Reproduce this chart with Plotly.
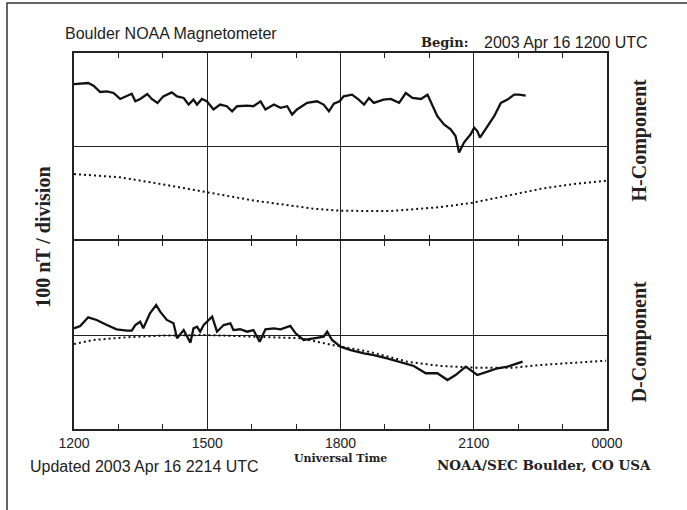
import plotly.graph_objects as go

# hours UT since 1200 (24 = 0000 next day); y in nT, 100 nT per division
h_time = [12.00, 12.20, 12.32, 12.44, 12.59, 12.74, 12.89, 13.04, 13.19, 13.30, 13.38, 13.49,
          13.65, 13.75, 13.88, 14.01, 14.20, 14.32, 14.47, 14.58, 14.69, 14.77, 14.88, 14.99,
          15.14, 15.29, 15.44, 15.56, 15.67, 15.90, 16.04, 16.20, 16.31, 16.50, 16.65, 16.80,
          16.91, 17.02, 17.25, 17.47, 17.62, 17.74, 17.85, 17.98, 18.07, 18.26, 18.41, 18.53,
          18.64, 18.75, 18.97, 19.13, 19.32, 19.47, 19.62, 19.81, 19.96, 20.07, 20.18, 20.33,
          20.48, 20.59, 20.67, 20.78, 20.93, 21.01, 21.08, 21.14, 21.31, 21.46, 21.61, 21.76,
          21.91, 22.02, 22.17]
h_obs = [366.7, 367.5, 367.8, 364.9, 358.2, 358.8, 357.1, 350.7, 353.5, 356.4, 348.2, 350.7,
         356.1, 350.7, 346.5, 353.5, 357.8, 353.5, 351.8, 344.7, 350.0, 344.7, 350.7, 348.2,
         339.4, 344.7, 342.9, 337.5, 342.9, 343.6, 342.9, 348.2, 339.4, 344.7, 341.2, 342.9,
         334.0, 339.4, 346.5, 348.2, 344.7, 337.5, 345.7, 348.2, 353.5, 355.3, 350.0, 344.7,
         351.8, 346.5, 350.0, 350.7, 346.5, 357.1, 351.8, 350.7, 355.3, 342.9, 332.2, 323.4,
         318.1, 311.0, 293.3, 303.9, 312.8, 319.9, 316.3, 309.2, 321.6, 332.2, 346.5, 350.0,
         355.3, 355.3, 354.2]

h_quiet_time = [12.00, 13.04, 13.94, 14.99, 16.04, 17.40, 18.00, 19.13, 20.26, 20.97, 21.76,
                22.51, 23.26, 23.98]
h_quiet = [270.2, 266.7, 259.6, 250.7, 241.8, 233.0, 230.8, 230.5, 234.8, 239.4, 247.1,
           254.3, 259.6, 263.1]

d_time = [12.00, 12.14, 12.32, 12.51, 12.74, 12.96, 13.19, 13.30, 13.38, 13.49, 13.56, 13.71,
          13.85, 13.94, 14.09, 14.24, 14.32, 14.47, 14.62, 14.69, 14.77, 14.84, 14.92, 15.11,
          15.22, 15.37, 15.52, 15.59, 15.74, 15.90, 16.04, 16.18, 16.31, 16.50, 16.65, 16.87,
          16.99, 17.17, 17.40, 17.62, 17.70, 17.81, 18.00, 18.23, 18.53, 18.75, 19.05, 19.43,
          19.65, 19.92, 20.18, 20.41, 20.59, 20.82, 20.93, 21.08, 21.31, 21.54, 21.76, 22.10]
d_obs = [107.1, 109.6, 118.8, 116.0, 110.6, 106.1, 104.6, 104.6, 110.6, 114.1, 107.1, 123.1,
         131.9, 124.8, 116.0, 112.4, 96.5, 105.3, 91.8, 107.1, 108.8, 103.5, 110.6, 119.5,
         103.5, 110.6, 112.4, 105.3, 106.1, 103.5, 105.3, 92.9, 106.1, 107.1, 106.1, 109.6,
         101.8, 94.7, 96.5, 98.2, 103.5, 94.7, 87.6, 84.0, 80.5, 78.7, 75.2, 69.9,
         67.0, 59.3, 59.3, 52.1, 57.4, 66.3, 62.8, 57.4, 61.0, 64.6, 66.3, 71.6]

d_quiet_time = [12.00, 12.44, 13.19, 13.94, 14.99, 16.20, 17.10, 17.93, 18.68, 19.50, 20.26,
                21.01, 21.91, 22.51, 23.26, 23.98]
d_quiet = [90.4, 94.7, 97.6, 99.3, 100.0, 98.2, 96.5, 88.3, 81.9, 71.6, 67.0, 65.2, 65.2,
           68.1, 70.5, 72.7]

hour_ticks = [12, 15, 18, 21, 24]
hour_labels = ["1200", "1500", "1800", "2100", "0000"]

SANS = "Liberation Sans"
SERIF = "Liberation Serif"
BOLD_SERIF = "DejaVu Serif"
INK = "#222"

fig = go.Figure()

# H-Component panel (top): quiet curve dotted, observed solid
fig.add_trace(go.Scatter(x=h_quiet_time, y=h_quiet, xaxis="x2", yaxis="y2", mode="lines",
                         showlegend=False, hoverinfo="skip",
                         line=dict(color="#111", width=2, dash="2px,3px")))
fig.add_trace(go.Scatter(x=h_time, y=h_obs, xaxis="x2", yaxis="y2", mode="lines",
                         showlegend=False, line=dict(color="#111", width=2.3)))
# D-Component panel (bottom)
fig.add_trace(go.Scatter(x=d_quiet_time, y=d_quiet, mode="lines", showlegend=False,
                         hoverinfo="skip", line=dict(color="#111", width=2, dash="2px,3px")))
fig.add_trace(go.Scatter(x=d_time, y=d_obs, mode="lines", showlegend=False,
                         line=dict(color="#111", width=2.3)))

x_common = dict(range=[12, 24], tickvals=hour_ticks, ticktext=hour_labels,
                showgrid=True, gridcolor=INK, gridwidth=1.2,
                showline=True, linecolor=INK, linewidth=1.5, mirror="ticks",
                ticks="inside", ticklen=4, tickcolor=INK, tickwidth=1.2, zeroline=False,
                minor=dict(dtick=1, tick0=12, ticks="inside", ticklen=5,
                           tickcolor=INK, tickwidth=1.3, showgrid=False),
                tickfont=dict(family=SANS, size=14, color=INK))
y_common = dict(dtick=100, showticklabels=False, ticks="",
                showgrid=True, gridcolor=INK, gridwidth=1.2,
                showline=True, linecolor=INK, linewidth=1.5, mirror=True, zeroline=False)

fig.update_layout(
    width=687, height=510,
    margin=dict(l=74, r=80, t=53, b=81),
    paper_bgcolor="white", plot_bgcolor="white",
    xaxis=dict(anchor="y", **x_common),
    xaxis2=dict(anchor="y2", matches="x", showticklabels=False,
                **{k: v for k, v in x_common.items() if k != "tickfont"}),
    # top panel starts one line width higher so the two frame lines overlap
    yaxis=dict(domain=[0, 0.5], range=[0, 200], **y_common),
    yaxis2=dict(domain=[0.504, 1], range=[200, 400], **y_common),
    shapes=[dict(type="rect", xref="paper", yref="paper",
                 x0=-0.1257, x1=1.3, y0=-0.4, y1=1.133,
                 line=dict(color="#333", width=1.5))],
    annotations=[
        dict(text="Boulder NOAA Magnetometer", x=-0.021, y=1.053, xanchor="left",
             font=dict(family=SANS, size=16, color=INK)),
        dict(text="<b>Begin:</b>", x=0.647, y=1.029, xanchor="left",
             font=dict(family=BOLD_SERIF, size=13, color=INK)),
        dict(text="2003 Apr 16 1200 UTC", x=0.765, y=1.029, xanchor="left",
             font=dict(family=SANS, size=16, color=INK)),
        dict(text="<b>Universal Time</b>", x=0.5, y=-0.079, xanchor="center",
             font=dict(family=BOLD_SERIF, size=11, color=INK)),
        dict(text="Updated 2003 Apr 16 2214 UTC", x=-0.086, y=-0.101, xanchor="left",
             font=dict(family=SANS, size=16, color=INK)),
        dict(text="<b>NOAA/SEC Boulder, CO USA</b>", x=0.677, y=-0.096, xanchor="left",
             font=dict(family=BOLD_SERIF, size=13.5, color=INK)),
        dict(text="<b>H-Component</b>", x=1.06, y=0.77, textangle=-90, xanchor="center",
             font=dict(family=SERIF, size=20, color=INK)),
        dict(text="<b>D-Component</b>", x=1.06, y=0.233, textangle=-90, xanchor="center",
             font=dict(family=SERIF, size=20, color=INK)),
        dict(text="<b>100 nT / division</b>", x=-0.057, y=0.51, textangle=-90,
             xanchor="center", font=dict(family=SERIF, size=20, color=INK)),
    ],
)
for a in fig.layout.annotations:
    a.update(xref="paper", yref="paper", showarrow=False, yanchor="middle")

# drop the default 8 px body margin so the page matches the 687x510 frame
fig.write_html("out.html", config={"displayModeBar": False},
               post_script="document.body.style.margin = '0px';")
